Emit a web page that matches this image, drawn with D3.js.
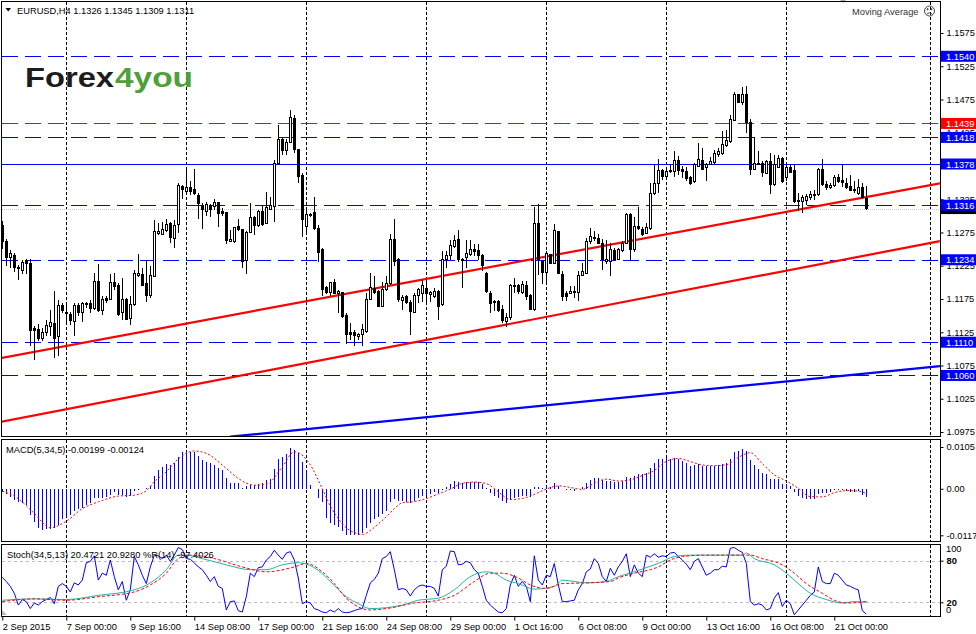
<!DOCTYPE html>
<html>
<head>
<meta charset="utf-8">
<script src="https://cdn.jsdelivr.net/npm/d3@7/dist/d3.min.js"></script>
<style>
  body { margin: 0; background: #fff; }
  svg { display: block; }
  text { font-family: "Liberation Sans", Arial, sans-serif; }
</style>
</head>
<body>
<script>
// EURUSD H4 candles, prices in 1/10000 (11285 = 1.1285)
const opens = [
  11285,11262,11238,11241,11222,11218,11233,11228,11130,11129,
  11116,11125,11134,11138,11118,11165,11154,11152,11141,11165,
  11154,11168,11168,11161,11202,11158,11176,11175,11200,11196,
  11154,11174,11145,11166,11210,11212,11199,11181,11209,11273,
  11272,11278,11289,11266,11287,11344,11336,11343,11339,11331,
  11315,11307,11316,11314,11320,11306,11305,11261,11261,11284,
  11279,11233,11275,11298,11286,11307,11288,11310,11314,11379,
  11415,11399,11411,11446,11400,11361,11284,11302,11305,11281,
  11249,11192,11185,11200,11183,11185,11150,11125,11125,11119,
  11121,11126,11175,11191,11186,11164,11189,11198,11264,11234,
  11173,11179,11170,11155,11181,11183,11191,11182,11179,11186,
  11166,11234,11240,11254,11264,11235,11237,11242,11249,11248,
  11241,11214,11184,11171,11171,11159,11141,11147,11195,11195,
  11185,11195,11180,11159,11288,11231,11215,11242,11228,11277,
  11212,11183,11183,11186,11185,11210,11214,11262,11268,11266,
  11258,11231,11232,11248,11235,11248,11259,11302,11250,11284,
  11279,11274,11281,11334,11348,11368,11359,11367,11367,11384,
  11370,11367,11358,11351,11375,11384,11372,11377,11380,11393,
  11394,11406,11412,11444,11482,11470,11482,11440,11370,11379,
  11379,11364,11382,11347,11373,11386,11358,11373,11368,11323,
  11322,11323,11328,11331,11332,11370,11347,11342,11345,11358,
  11353,11349,11344,11339,11334,11343,11326
];
const highs = [
  11293,11265,11249,11244,11226,11233,11235,11235,11134,11137,
  11131,11144,11159,11187,11174,11169,11171,11156,11169,11169,
  11171,11171,11174,11214,11228,11179,11179,11212,11214,11199,
  11206,11176,11179,11219,11243,11222,11234,11224,11294,11289,
  11291,11295,11291,11294,11349,11346,11371,11353,11371,11334,
  11319,11321,11318,11326,11321,11312,11306,11279,11284,11296,
  11280,11278,11319,11300,11309,11316,11336,11329,11384,11436,
  11418,11416,11459,11451,11401,11364,11314,11305,11328,11286,
  11251,11195,11201,11205,11188,11186,11154,11139,11129,11124,
  11138,11184,11214,11209,11189,11201,11209,11273,11295,11236,
  11181,11181,11174,11184,11192,11204,11204,11187,11191,11189,
  11247,11247,11264,11271,11279,11237,11264,11264,11258,11257,
  11242,11215,11187,11174,11174,11166,11154,11197,11206,11198,
  11202,11202,11183,11314,11318,11234,11247,11243,11288,11278,
  11217,11187,11194,11194,11217,11229,11267,11282,11277,11273,
  11265,11264,11259,11252,11252,11262,11304,11304,11299,11314,
  11284,11289,11349,11377,11385,11370,11369,11377,11397,11390,
  11375,11373,11360,11379,11410,11402,11379,11388,11399,11402,
  11427,11429,11452,11487,11484,11494,11495,11446,11419,11397,
  11382,11384,11395,11392,11392,11388,11377,11377,11378,11334,
  11332,11333,11337,11339,11372,11385,11352,11349,11362,11363,
  11377,11357,11362,11352,11355,11349,11345
];
const lows = [
  11250,11224,11222,11216,11204,11212,11212,11104,11084,11112,
  11112,11119,11119,11087,11089,11154,11141,11136,11119,11149,
  11140,11161,11154,11159,11156,11151,11169,11174,11189,11149,
  11144,11143,11136,11164,11208,11194,11170,11176,11208,11271,
  11271,11276,11259,11251,11274,11326,11333,11331,11331,11296,
  11281,11300,11299,11309,11284,11300,11258,11260,11259,11278,
  11221,11212,11274,11271,11284,11285,11288,11310,11291,11376,
  11391,11391,11409,11394,11349,11268,11274,11298,11279,11231,
  11179,11183,11179,11182,11154,11146,11108,11114,11104,11114,
  11104,11124,11174,11183,11163,11163,11187,11196,11225,11171,
  11159,11168,11121,11154,11169,11171,11171,11171,11176,11144,
  11165,11222,11234,11251,11231,11192,11221,11239,11239,11234,
  11217,11184,11154,11157,11156,11139,11133,11144,11184,11183,
  11182,11174,11158,11157,11211,11197,11197,11228,11227,11212,
  11172,11172,11182,11177,11172,11209,11214,11257,11262,11257,
  11219,11228,11209,11234,11234,11246,11257,11234,11246,11279,
  11269,11273,11279,11332,11334,11354,11357,11364,11358,11362,
  11357,11353,11347,11349,11373,11369,11353,11376,11378,11389,
  11392,11404,11410,11442,11469,11467,11424,11362,11369,11377,
  11358,11363,11333,11345,11372,11349,11352,11364,11320,11307,
  11304,11317,11324,11324,11330,11345,11339,11340,11343,11349,
  11343,11340,11337,11334,11332,11325,11309
];
const closes = [
  11262,11238,11243,11222,11221,11230,11229,11128,11128,11116,
  11124,11135,11139,11116,11165,11158,11153,11143,11165,11155,
  11168,11167,11161,11202,11158,11175,11172,11200,11194,11151,
  11175,11144,11166,11214,11214,11196,11180,11210,11277,11277,
  11279,11287,11267,11285,11346,11340,11342,11336,11333,11319,
  11309,11317,11310,11320,11303,11303,11263,11265,11282,11279,
  11231,11275,11298,11286,11307,11287,11313,11315,11379,11415,
  11399,11411,11448,11400,11359,11295,11302,11301,11281,11245,
  11190,11185,11200,11183,11187,11148,11121,11121,11120,11122,
  11129,11175,11192,11185,11164,11189,11198,11264,11232,11174,
  11178,11169,11156,11181,11189,11195,11183,11185,11187,11164,
  11234,11240,11255,11263,11234,11233,11243,11250,11247,11241,
  11226,11186,11168,11169,11157,11142,11147,11195,11194,11186,
  11197,11179,11159,11288,11234,11215,11243,11229,11278,11213,
  11179,11179,11187,11185,11211,11217,11262,11269,11266,11258,
  11234,11234,11249,11235,11249,11259,11302,11250,11284,11281,
  11272,11282,11334,11348,11368,11359,11366,11368,11383,11368,
  11367,11356,11349,11377,11385,11370,11377,11382,11394,11397,
  11407,11414,11445,11482,11470,11482,11440,11370,11379,11378,
  11365,11382,11347,11377,11387,11352,11373,11365,11322,11322,
  11328,11329,11332,11332,11369,11347,11343,11346,11358,11352,
  11350,11342,11338,11338,11343,11327,11311
];

// horizontal levels, current bid
const levelPrices = [11540, 11439, 11418, 11378, 11316, 11234, 11110, 11060];
const bidPrice = 11311;
// trend lines: [bar0, price0, bar1, price1]
const trendRed = [[-0.6, 11086, 234.4, 11349], [-0.6, 10990, 234.4, 11262]];
const trendBlue = [[57, 10968, 234.4, 11074]];

// 1.1375 sits fully under the 1.1378 box in the original, so it is not listed
const priceTicks = [10975, 11025, 11075, 11125, 11175, 11225, 11275, 11325, 11425, 11475, 11525, 11575];
const gridBars = [16, 46, 76, 106, 136, 166, 196, 232];
const labelBars = [0, 16, 32, 48, 64, 80, 96, 112, 128, 144, 160, 176, 192, 208];
const timeLabels = ['2 Sep 2015', '7 Sep 00:00', '9 Sep 16:00', '14 Sep 08:00', '17 Sep 00:00', '21 Sep 16:00',
  '24 Sep 08:00', '29 Sep 00:00', '1 Oct 16:00', '6 Oct 08:00', '9 Oct 00:00', '13 Oct 16:00', '16 Oct 08:00', '21 Oct 00:00'];

// MACD(5,34,5) histogram, 1e-5 units
const macdHist = [
  -76,-143,-202,-286,-328,-353,-412,-664,-832,-983,
  -1025,-1016,-1000,-983,-899,-748,-706,-664,-563,-512,
  -496,-412,-370,-227,-244,-244,-218,-160,-76,-160,
  -160,-202,-185,-59,-34,-8,8,67,319,470,
  538,613,596,638,806,932,958,932,916,832,
  722,680,638,596,529,470,260,151,134,134,
  8,67,92,92,109,134,218,235,487,748,
  806,865,1033,974,890,680,470,92,0,-244,
  -328,-731,-850,-900,-960,-1050,-1150,-1170,-1170,-1150,
  -1100,-980,-850,-760,-720,-640,-560,-330,-250,-300,
  -320,-330,-370,-300,-230,-180,-150,-120,-90,-110,
  -20,50,120,190,170,150,160,180,180,160,
  120,10,-100,-170,-240,-320,-350,-280,-220,-200,
  -170,-170,-210,40,50,20,60,50,150,80,
  0,-30,-40,-50,0,40,140,230,270,280,
  230,200,200,170,180,200,300,280,330,370,
  380,390,520,640,740,760,770,760,780,740,
  700,640,560,590,620,580,560,560,580,590,
  630,660,760,920,960,1000,940,720,600,500,
  400,360,240,250,250,130,110,70,-90,-170,
  -220,-250,-260,-260,-140,-110,-100,-90,-40,-30,
  -30,-50,-70,-80,-60,-150,-199
];
// MACD signal line, read at these bars
const macdSigBars = [0,4,8,12,16,20,24,29,33,36,38,41,44,48,51,56,59,63,66,70,
  73,77,80,82,84,86,88,90,92,94,96,98,100,103,106,109,112,115,118,121,
  124,127,130,133,136,139,142,145,148,151,154,157,160,163,166,169,172,175,178,181,
  184,187,190,193,196,199,202,205,208,211,214,216];
const macdSig = [-60,-250,-620,-980,-815,-500,-330,-185,-160,-50,175,430,750,950,890,510,260,90,110,550,
  930,600,0,-430,-754,-982,-1100,-1148,-1050,-882,-706,-500,-352,-324,-246,-130,-10,136,168,130,
  -76,-272,-244,-142,-8,72,32,-16,136,242,196,226,332,460,686,762,684,598,580,604,
  786,908,632,350,196,10,-198,-204,-96,-48,-58,-124];

// %R(14) shifted to 0..100
const wpr = [
  56,50,43,33,16,24,21,11,19,16,
  21,24,27,18,43,47,43,35,48,45,
  52,77,79,87,52,62,59,81,57,38,
  50,23,38,86,74,59,47,71,88,87,
  83,88,79,88,99,96,83,82,77,71,
  67,59,50,57,43,40,9,21,22,8,
  6,28,62,57,70,71,81,86,95,88,
  82,91,93,81,55,18,21,19,11,9,
  6,5,9,6,11,6,5,6,8,10,
  11,30,48,53,62,83,86,93,67,38,
  40,38,29,38,43,45,43,43,40,29,
  67,72,94,93,74,75,79,77,67,62,
  43,23,16,11,6,5,11,45,59,43,
  50,43,21,87,52,45,59,57,76,45,
  21,21,22,23,38,47,64,68,83,76,
  57,50,69,59,71,79,90,57,74,62,
  57,88,85,90,85,87,86,91,92,86,
  81,75,67,79,83,71,59,62,67,67,
  72,71,98,99,95,92,76,21,16,18,
  16,9,11,26,34,14,23,18,2,9,
  16,23,30,35,71,50,47,47,62,59,
  52,45,43,40,38,8,3
];
// Stoch(34,5,13) main and signal, read at these bars
const stochMainBars = [0,8,16,24,33,37,41,44,46,50,56,62,66,70,74,79,82,86,89,92,
  100,104,109,113,117,121,123,126,129,133,138,140,143,146,151,154,158,162,164,168,
  172,180,185,186,188,193,196,199,202,206,210,213,216];
const stochMain = [23,25,24,30,38,48,67,88,88,83,74,67,67,74,77,66,50,28,18,11,
  16,23,26,38,57,64,62,52,47,39,43,52,50,48,50,57,64,72,76,86,
  88,88,88,91,83,74,62,47,33,24,19,21,20.47];
const stochSigBars = [0,8,16,24,33,37,41,44,47,53,60,66,73,76,80,83,86,90,92,96,
  103,109,113,118,122,125,129,132,136,140,146,152,154,158,162,164,167,170,176,185,
  187,190,195,198,201,205,208,211,216];
const stochSig = [21,25,23,28,35,45,62,83,88,83,71,64,71,76,64,47,26,11,9,11,
  19,23,30,50,62,62,55,45,40,47,48,50,55,62,67,71,81,86,88,88,
  88,83,74,62,47,33,23,19,20.93];

const W = 976, H = 634, R = 940.5;
const svg = d3.select('body').append('svg').attr('width', W).attr('height', H);
svg.append('rect').attr('width', W).attr('height', H).attr('fill', '#fff');

const x = d3.scaleLinear().domain([0, 216]).range([2.3, 866.3]);
const px = i => Math.floor(x(i)) + 0.5;
const yMain = d3.scaleLinear().domain([10975, 11575]).range([432, 33]);
const yMacd = d3.scaleLinear().domain([-1170, 1050]).range([535.3, 447]);
const yStoch = d3.scaleLinear().domain([0, 100]).range([616.2, 546.8]);

const panels = [
  { id: 'pMain', top: 1.5, bottom: 436.5 },
  { id: 'pMacd', top: 439.5, bottom: 541.5 },
  { id: 'pStoch', top: 544.5, bottom: 616.5 }
];
const defs = svg.append('defs');
panels.forEach(p => {
  defs.append('clipPath').attr('id', p.id).append('rect')
    .attr('x', 2).attr('y', p.top + 0.5).attr('width', R - 2.5).attr('height', p.bottom - p.top - 1);
});

// vertical grid
panels.forEach(p => {
  svg.append('g').selectAll('line').data(gridBars).join('line')
    .attr('x1', d => px(d)).attr('x2', d => px(d))
    .attr('y1', p.top).attr('y2', p.bottom)
    .attr('stroke', '#000').attr('stroke-dasharray', '3,2')
    .attr('shape-rendering', 'crispEdges');
});

// ---- main panel
const main = svg.append('g').attr('clip-path', 'url(#pMain)');

main.append('line')
  .attr('x1', 2).attr('x2', R).attr('y1', Math.round(yMain(bidPrice)) + 0.5).attr('y2', Math.round(yMain(bidPrice)) + 0.5)
  .attr('stroke', '#c0c0c0').attr('stroke-dasharray', '1,1');

main.selectAll('line.lvl').data(levelPrices).join('line').attr('class', 'lvl')
  .attr('x1', 2).attr('x2', R)
  .attr('y1', d => Math.round(yMain(d)) + 0.5).attr('y2', d => Math.round(yMain(d)) + 0.5)
  .attr('stroke', d => d === 11439 ? '#ff0000' : '#0000ff')
  .attr('stroke-dasharray', d => d === 11378 ? null : '16,7')
  .attr('shape-rendering', 'crispEdges');

const tl = (sel, data, color) => sel.selectAll(null).data(data).join('line')
  .attr('x1', d => x(d[0])).attr('y1', d => yMain(d[1]))
  .attr('x2', d => x(d[2])).attr('y2', d => yMain(d[3]))
  .attr('stroke', color).attr('stroke-width', 2.2);
tl(main, trendRed, '#ff0000');
tl(main, trendBlue, '#0000ff');

const candles = d3.range(opens.length).map(i => ({ i, o: opens[i], h: highs[i], l: lows[i], c: closes[i] }));
const cg = main.append('g').attr('shape-rendering', 'crispEdges');
cg.selectAll('line').data(candles).join('line')
  .attr('x1', d => px(d.i)).attr('x2', d => px(d.i))
  .attr('y1', d => yMain(d.h)).attr('y2', d => yMain(d.l))
  .attr('stroke', '#000');
cg.selectAll('rect').data(candles).join('rect')
  .attr('x', d => px(d.i) - 1).attr('width', 2)
  .attr('y', d => yMain(Math.max(d.o, d.c)))
  .attr('height', d => Math.max(0.6, Math.abs(yMain(d.o) - yMain(d.c))))
  .attr('fill', d => d.c >= d.o ? '#fff' : '#000').attr('stroke', '#000');

// logo
svg.append('text').attr('x', 25).attr('y', 87).attr('font-size', 28).attr('font-weight', 'bold')
  .attr('fill', '#1c1c1c').attr('textLength', 89).attr('lengthAdjust', 'spacingAndGlyphs').text('Forex');
svg.append('text').attr('x', 115).attr('y', 87).attr('font-size', 28).attr('font-weight', 'bold')
  .attr('fill', '#4fa03a').attr('textLength', 78).attr('lengthAdjust', 'spacingAndGlyphs').text('4you');

// header
svg.append('path').attr('d', 'M5.5,8 L11,8 L8.25,11.5 Z').attr('fill', '#000');
svg.append('text').attr('x', 17).attr('y', 13.5).attr('font-size', 9.3).attr('fill', '#000')
  .text('EURUSD,H4  1.1326 1.1345 1.1309 1.1311');
svg.append('path').attr('d', 'M840,0 L846,0 L843,3 Z').attr('fill', '#aaa');
svg.append('text').attr('x', 852).attr('y', 14.5).attr('font-size', 9.3).attr('fill', '#333').text('Moving Average');
const face = svg.append('g').attr('stroke', '#444').attr('fill', 'none');
face.append('circle').attr('cx', 929.5).attr('cy', 11).attr('r', 5);
face.append('path').attr('d', 'M926.8,14 Q929.5,11.5 932.2,14');
face.append('circle').attr('cx', 927.6).attr('cy', 9.2).attr('r', 0.6).attr('fill', '#444');
face.append('circle').attr('cx', 931.4).attr('cy', 9.2).attr('r', 0.6).attr('fill', '#444');

// ---- MACD panel
const macd = svg.append('g').attr('clip-path', 'url(#pMacd)');
macd.append('g').attr('shape-rendering', 'crispEdges').selectAll('line').data(macdHist).join('line')
  .attr('x1', (d, i) => px(i)).attr('x2', (d, i) => px(i))
  .attr('y1', yMacd(0)).attr('y2', d => yMacd(d))
  .attr('stroke', '#0000ff');
macd.append('path')
  .attr('d', d3.line().curve(d3.curveMonotoneX).x((d, k) => x(macdSigBars[k])).y(d => yMacd(d))(macdSig))
  .attr('fill', 'none').attr('stroke', '#ff0000').attr('stroke-dasharray', '2,2');
svg.append('text').attr('x', 6).attr('y', 452.5).attr('font-size', 9.3).attr('fill', '#000')
  .text('MACD(5,34,5) -0.00199 -0.00124');

// ---- Stoch panel
const st = svg.append('g').attr('clip-path', 'url(#pStoch)');
st.selectAll('line').data([80, 20]).join('line')
  .attr('x1', 2).attr('x2', R)
  .attr('y1', d => Math.round(yStoch(d)) + 0.5).attr('y2', d => Math.round(yStoch(d)) + 0.5)
  .attr('stroke', '#c8b4cc').attr('stroke-dasharray', '3,3');
st.append('path')
  .attr('d', d3.line().x((d, i) => x(i)).y(d => yStoch(d))(wpr))
  .attr('fill', 'none').attr('stroke', '#0000ff');
st.append('path')
  .attr('d', d3.line().curve(d3.curveMonotoneX).x((d, k) => x(stochMainBars[k])).y(d => yStoch(d))(stochMain))
  .attr('fill', 'none').attr('stroke', '#20b2aa');
st.append('path')
  .attr('d', d3.line().curve(d3.curveMonotoneX).x((d, k) => x(stochSigBars[k])).y(d => yStoch(d))(stochSig))
  .attr('fill', 'none').attr('stroke', '#ff0000').attr('stroke-dasharray', '3,2');
svg.append('path').attr('d', 'M2,610 L2,615 L7,615 Z').attr('fill', '#bbb');
svg.append('text').attr('x', 7).attr('y', 558).attr('font-size', 9.3).attr('fill', '#000')
  .text('Stoch(34,5,13) 20.4721 20.9280  %R(14) -97.4026');

// ---- frames
panels.forEach(p => {
  svg.append('rect').attr('x', 1.5).attr('y', p.top).attr('width', R - 1.5).attr('height', p.bottom - p.top)
    .attr('fill', 'none').attr('stroke', '#000').attr('shape-rendering', 'crispEdges');
});

// ---- right price axis
const axMain = svg.append('g').attr('transform', `translate(${R},0)`)
  .call(d3.axisRight(yMain).tickValues(priceTicks).tickSize(3).tickPadding(3)
    .tickFormat(d => (d / 10000).toFixed(4)));
axMain.select('.domain').remove();

const boxes = [{ p: bidPrice, c: '#000' }].concat(levelPrices.map(p => ({ p, c: p === 11439 ? '#ff0000' : '#0000ff' })));
const bx = svg.append('g').selectAll('g').data(boxes).join('g')
  .attr('transform', d => `translate(941,${yMain(d.p)})`);
bx.append('rect').attr('x', 0).attr('y', -5.5).attr('width', 35).attr('height', 11).attr('fill', d => d.c);
bx.filter(d => d.p !== bidPrice).append('text').attr('x', 5).attr('y', 3.5).attr('font-size', 9.3).attr('fill', '#fff')
  .text(d => (d.p / 10000).toFixed(4));

// MACD axis
const axMacd = svg.append('g').attr('transform', `translate(${R},0)`)
  .call(d3.axisRight(yMacd).tickValues([1050, 0, -1170]).tickSize(3).tickPadding(3)
    .tickFormat(d => d === 0 ? '0.00' : (d / 100000).toFixed(4)));
axMacd.select('.domain').remove();

// Stoch axis
const axSt = svg.append('g').attr('transform', `translate(${R},0)`)
  .call(d3.axisRight(yStoch).tickValues([80, 20]).tickSize(3).tickPadding(3).tickFormat(d => d));
axSt.select('.domain').remove();
svg.append('g').selectAll('text').data([[100, 5], [0, -3]]).join('text')
  .attr('x', 946).attr('y', d => yStoch(d[0]) + d[1]).attr('font-size', 9.3)
  .text(d => d[0]);

[axMain, axMacd, axSt].forEach(a => {
  a.selectAll('text').attr('font-size', 9.3).attr('font-family', '"Liberation Sans", Arial, sans-serif').attr('fill', '#000');
  a.selectAll('line').attr('stroke', '#000');
});
axSt.selectAll('text').attr('font-weight', 'bold');

// ---- time axis
const axT = svg.append('g').attr('transform', 'translate(0,616.5)')
  .call(d3.axisBottom(x).tickValues(labelBars).tickSize(4).tickPadding(2.5)
    .tickFormat((d, k) => timeLabels[k]));
axT.select('.domain').remove();
axT.selectAll('line').attr('stroke', '#000');
axT.selectAll('text').attr('text-anchor', 'start').attr('font-size', 9.3)
  .attr('font-family', '"Liberation Sans", Arial, sans-serif').attr('fill', '#000');
</script>
</body>
</html>
